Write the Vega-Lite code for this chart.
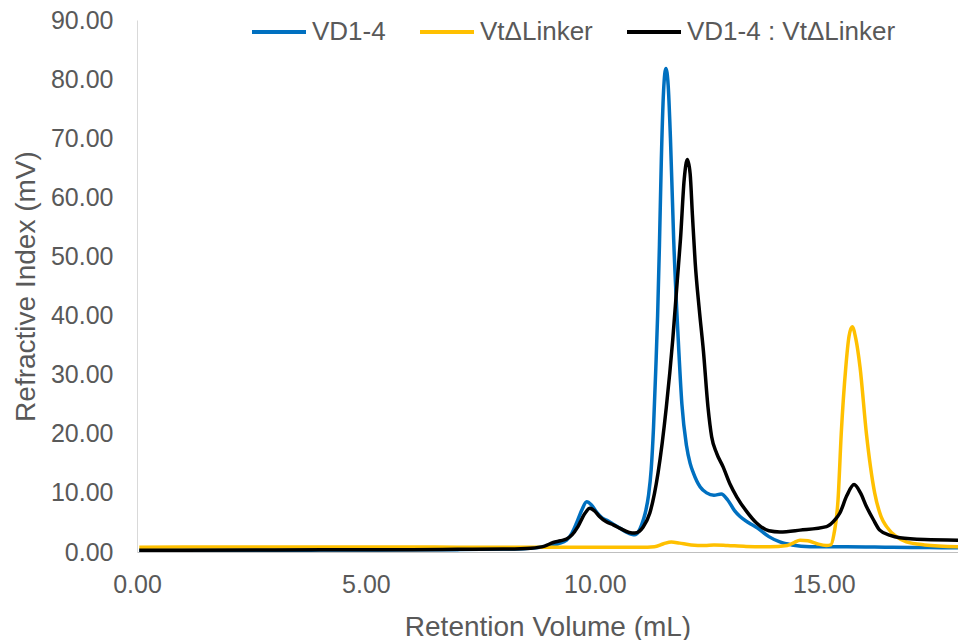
{
  "$schema": "https://vega.github.io/schema/vega-lite/v6.json",
  "autosize": {"type": "none"},
  "padding": {"left": 137, "top": 20, "right": 0, "bottom": 88},
  "width": 821,
  "height": 532,
  "background": "white",
  "config": {
    "view": {"stroke": null},
    "font": "Liberation Sans"
  },
  "data": {
    "values": [
      {"s":"VD1-4","v":0.05,"r":0.3},{"s":"VD1-4","v":1,"r":0.3},{"s":"VD1-4","v":2,"r":0.3},{"s":"VD1-4","v":3,"r":0.3},{"s":"VD1-4","v":4,"r":0.32},{"s":"VD1-4","v":5,"r":0.35},{"s":"VD1-4","v":6,"r":0.38},{"s":"VD1-4","v":7,"r":0.4},{"s":"VD1-4","v":7.5,"r":0.45},{"s":"VD1-4","v":8,"r":0.5},{"s":"VD1-4","v":8.5,"r":0.6},{"s":"VD1-4","v":8.8,"r":0.8},{"s":"VD1-4","v":9.0,"r":1.0},{"s":"VD1-4","v":9.2,"r":1.4},{"s":"VD1-4","v":9.38,"r":2.0},{"s":"VD1-4","v":9.5,"r":3.2},{"s":"VD1-4","v":9.6,"r":4.9},{"s":"VD1-4","v":9.72,"r":7.2},{"s":"VD1-4","v":9.82,"r":8.5},{"s":"VD1-4","v":9.92,"r":8.0},{"s":"VD1-4","v":10.05,"r":6.6},{"s":"VD1-4","v":10.15,"r":5.8},{"s":"VD1-4","v":10.25,"r":5.4},{"s":"VD1-4","v":10.4,"r":4.7},{"s":"VD1-4","v":10.55,"r":4.0},{"s":"VD1-4","v":10.7,"r":3.3},{"s":"VD1-4","v":10.8,"r":3.0},{"s":"VD1-4","v":10.87,"r":2.9},{"s":"VD1-4","v":10.95,"r":3.4},{"s":"VD1-4","v":11.02,"r":4.6},{"s":"VD1-4","v":11.1,"r":6.6},{"s":"VD1-4","v":11.17,"r":9.5},{"s":"VD1-4","v":11.23,"r":14},{"s":"VD1-4","v":11.28,"r":21},{"s":"VD1-4","v":11.33,"r":31},{"s":"VD1-4","v":11.37,"r":40},{"s":"VD1-4","v":11.41,"r":52},{"s":"VD1-4","v":11.45,"r":66},{"s":"VD1-4","v":11.5,"r":78},{"s":"VD1-4","v":11.55,"r":81.8},{"s":"VD1-4","v":11.6,"r":79},{"s":"VD1-4","v":11.65,"r":70},{"s":"VD1-4","v":11.72,"r":53},{"s":"VD1-4","v":11.82,"r":36},{"s":"VD1-4","v":11.9,"r":25},{"s":"VD1-4","v":12.0,"r":18},{"s":"VD1-4","v":12.08,"r":15},{"s":"VD1-4","v":12.15,"r":13.4},{"s":"VD1-4","v":12.3,"r":11},{"s":"VD1-4","v":12.44,"r":10},{"s":"VD1-4","v":12.6,"r":9.6},{"s":"VD1-4","v":12.76,"r":9.8},{"s":"VD1-4","v":12.9,"r":8.8},{"s":"VD1-4","v":13.05,"r":7},{"s":"VD1-4","v":13.17,"r":6},{"s":"VD1-4","v":13.35,"r":5},{"s":"VD1-4","v":13.56,"r":4},{"s":"VD1-4","v":13.8,"r":2.6},{"s":"VD1-4","v":14.04,"r":1.7},{"s":"VD1-4","v":14.3,"r":1.2},{"s":"VD1-4","v":14.7,"r":0.9},{"s":"VD1-4","v":15.5,"r":0.9},{"s":"VD1-4","v":16.5,"r":0.8},{"s":"VD1-4","v":17.3,"r":0.75},{"s":"VD1-4","v":17.93,"r":0.7},

      {"s":"VtΔLinker","v":0.05,"r":0.8},{"s":"VtΔLinker","v":1,"r":0.85},{"s":"VtΔLinker","v":3,"r":0.85},{"s":"VtΔLinker","v":5,"r":0.85},{"s":"VtΔLinker","v":6,"r":0.85},{"s":"VtΔLinker","v":7,"r":0.8},{"s":"VtΔLinker","v":8,"r":0.8},{"s":"VtΔLinker","v":9,"r":0.8},{"s":"VtΔLinker","v":10,"r":0.8},{"s":"VtΔLinker","v":11,"r":0.8},{"s":"VtΔLinker","v":11.3,"r":0.9},{"s":"VtΔLinker","v":11.5,"r":1.4},{"s":"VtΔLinker","v":11.67,"r":1.7},{"s":"VtΔLinker","v":11.85,"r":1.5},{"s":"VtΔLinker","v":12.1,"r":1.2},{"s":"VtΔLinker","v":12.4,"r":1.1},{"s":"VtΔLinker","v":12.6,"r":1.2},{"s":"VtΔLinker","v":12.9,"r":1.1},{"s":"VtΔLinker","v":13.3,"r":0.95},{"s":"VtΔLinker","v":13.82,"r":0.9},{"s":"VtΔLinker","v":14.2,"r":1.1},{"s":"VtΔLinker","v":14.35,"r":1.6},{"s":"VtΔLinker","v":14.48,"r":2.0},{"s":"VtΔLinker","v":14.65,"r":1.9},{"s":"VtΔLinker","v":14.85,"r":1.4},{"s":"VtΔLinker","v":15.05,"r":1.1},{"s":"VtΔLinker","v":15.15,"r":1.2},{"s":"VtΔLinker","v":15.22,"r":3},{"s":"VtΔLinker","v":15.31,"r":8.8},{"s":"VtΔLinker","v":15.38,"r":20},{"s":"VtΔLinker","v":15.48,"r":31.3},{"s":"VtΔLinker","v":15.55,"r":36.5},{"s":"VtΔLinker","v":15.62,"r":38.1},{"s":"VtΔLinker","v":15.7,"r":36},{"s":"VtΔLinker","v":15.79,"r":31.3},{"s":"VtΔLinker","v":15.93,"r":20},{"s":"VtΔLinker","v":16.11,"r":10},{"s":"VtΔLinker","v":16.25,"r":6},{"s":"VtΔLinker","v":16.37,"r":4.3},{"s":"VtΔLinker","v":16.6,"r":2.5},{"s":"VtΔLinker","v":16.8,"r":1.7},{"s":"VtΔLinker","v":17.2,"r":1.2},{"s":"VtΔLinker","v":17.93,"r":0.9},

      {"s":"VD1-4 : VtΔLinker","v":0.05,"r":0.3},{"s":"VD1-4 : VtΔLinker","v":1,"r":0.3},{"s":"VD1-4 : VtΔLinker","v":3,"r":0.35},{"s":"VD1-4 : VtΔLinker","v":5,"r":0.38},{"s":"VD1-4 : VtΔLinker","v":6,"r":0.4},{"s":"VD1-4 : VtΔLinker","v":7,"r":0.45},{"s":"VD1-4 : VtΔLinker","v":8,"r":0.5},{"s":"VD1-4 : VtΔLinker","v":8.6,"r":0.65},{"s":"VD1-4 : VtΔLinker","v":8.9,"r":1.0},{"s":"VD1-4 : VtΔLinker","v":9.09,"r":1.6},{"s":"VD1-4 : VtΔLinker","v":9.25,"r":1.9},{"s":"VD1-4 : VtΔLinker","v":9.38,"r":2.2},{"s":"VD1-4 : VtΔLinker","v":9.5,"r":2.9},{"s":"VD1-4 : VtΔLinker","v":9.63,"r":4.3},{"s":"VD1-4 : VtΔLinker","v":9.78,"r":6.5},{"s":"VD1-4 : VtΔLinker","v":9.89,"r":7.4},{"s":"VD1-4 : VtΔLinker","v":10.0,"r":6.9},{"s":"VD1-4 : VtΔLinker","v":10.1,"r":6.0},{"s":"VD1-4 : VtΔLinker","v":10.25,"r":5.1},{"s":"VD1-4 : VtΔLinker","v":10.4,"r":4.6},{"s":"VD1-4 : VtΔLinker","v":10.55,"r":4.0},{"s":"VD1-4 : VtΔLinker","v":10.75,"r":3.3},{"s":"VD1-4 : VtΔLinker","v":10.87,"r":3.2},{"s":"VD1-4 : VtΔLinker","v":10.97,"r":3.5},{"s":"VD1-4 : VtΔLinker","v":11.05,"r":4.2},{"s":"VD1-4 : VtΔLinker","v":11.2,"r":6.6},{"s":"VD1-4 : VtΔLinker","v":11.38,"r":13.4},{"s":"VD1-4 : VtΔLinker","v":11.56,"r":24.5},{"s":"VD1-4 : VtΔLinker","v":11.7,"r":35.9},{"s":"VD1-4 : VtΔLinker","v":11.8,"r":46},{"s":"VD1-4 : VtΔLinker","v":11.87,"r":53},{"s":"VD1-4 : VtΔLinker","v":11.95,"r":63},{"s":"VD1-4 : VtΔLinker","v":12.02,"r":66.4},{"s":"VD1-4 : VtΔLinker","v":12.08,"r":64},{"s":"VD1-4 : VtΔLinker","v":12.13,"r":57},{"s":"VD1-4 : VtΔLinker","v":12.19,"r":49},{"s":"VD1-4 : VtΔLinker","v":12.28,"r":41},{"s":"VD1-4 : VtΔLinker","v":12.37,"r":34},{"s":"VD1-4 : VtΔLinker","v":12.47,"r":24.5},{"s":"VD1-4 : VtΔLinker","v":12.55,"r":19.5},{"s":"VD1-4 : VtΔLinker","v":12.66,"r":16.7},{"s":"VD1-4 : VtΔLinker","v":12.8,"r":14.4},{"s":"VD1-4 : VtΔLinker","v":12.95,"r":11.5},{"s":"VD1-4 : VtΔLinker","v":13.1,"r":9.3},{"s":"VD1-4 : VtΔLinker","v":13.3,"r":7},{"s":"VD1-4 : VtΔLinker","v":13.53,"r":4.9},{"s":"VD1-4 : VtΔLinker","v":13.8,"r":3.6},{"s":"VD1-4 : VtΔLinker","v":14.04,"r":3.4},{"s":"VD1-4 : VtΔLinker","v":14.48,"r":3.7},{"s":"VD1-4 : VtΔLinker","v":15.06,"r":4.3},{"s":"VD1-4 : VtΔLinker","v":15.25,"r":5.5},{"s":"VD1-4 : VtΔLinker","v":15.35,"r":6.6},{"s":"VD1-4 : VtΔLinker","v":15.5,"r":9.5},{"s":"VD1-4 : VtΔLinker","v":15.66,"r":11.4},{"s":"VD1-4 : VtΔLinker","v":15.8,"r":10},{"s":"VD1-4 : VtΔLinker","v":15.93,"r":7.7},{"s":"VD1-4 : VtΔLinker","v":16.08,"r":5.5},{"s":"VD1-4 : VtΔLinker","v":16.22,"r":3.7},{"s":"VD1-4 : VtΔLinker","v":16.45,"r":2.8},{"s":"VD1-4 : VtΔLinker","v":16.66,"r":2.4},{"s":"VD1-4 : VtΔLinker","v":17.2,"r":2.1},{"s":"VD1-4 : VtΔLinker","v":17.93,"r":2.0}
    ]
  },
  "mark": {"type": "line", "interpolate": "monotone", "strokeWidth": 3.5, "clip": true},
  "encoding": {
    "x": {
      "field": "v", "type": "quantitative",
      "scale": {"domain": [0, 17.93], "nice": false, "zero": false},
      "axis": {
        "title": "Retention Volume (mL)",
        "values": [0, 5, 10, 15],
        "format": ".2f",
        "grid": false, "ticks": false,
        "domainColor": "#BFBFBF", "domainWidth": 1,
        "labelFontSize": 25, "labelColor": "#595959", "labelPadding": 20, "labelFont": "Liberation Sans",
        "labelFlush": false,
        "titleFontSize": 28, "titleColor": "#595959", "titleFontWeight": "normal", "titleFont": "Liberation Sans", "titlePadding": 16
      }
    },
    "y": {
      "field": "r", "type": "quantitative",
      "scale": {"domain": [0, 90], "nice": false},
      "axis": {
        "title": "Refractive Index (mV)",
        "values": [0, 10, 20, 30, 40, 50, 60, 70, 80, 90],
        "format": ".2f",
        "grid": false, "ticks": false,
        "domainColor": "#D9D9D9", "domainWidth": 1,
        "labelFontSize": 25, "labelColor": "#595959", "labelPadding": 24, "labelFont": "Liberation Sans",
        "labelFlush": false,
        "titleFontSize": 28, "titleColor": "#595959", "titleFontWeight": "normal", "titleFont": "Liberation Sans", "titlePadding": 10
      }
    },
    "color": {
      "field": "s", "type": "nominal",
      "scale": {"domain": ["VD1-4", "VtΔLinker", "VD1-4 : VtΔLinker"], "range": ["#0070C0", "#FFC000", "#000000"]},
      "legend": {
        "title": null,
        "orient": "none",
        "direction": "horizontal",
        "legendX": 113,
        "legendY": -17,
        "symbolType": "stroke",
        "symbolSize": 2916,
        "symbolStrokeWidth": 4,
        "labelFontSize": 26,
        "labelColor": "#595959",
        "labelFont": "Liberation Sans",
        "labelOffset": 4,
        "columnPadding": 26,
        "labelLimit": 400
      }
    }
  }
}
